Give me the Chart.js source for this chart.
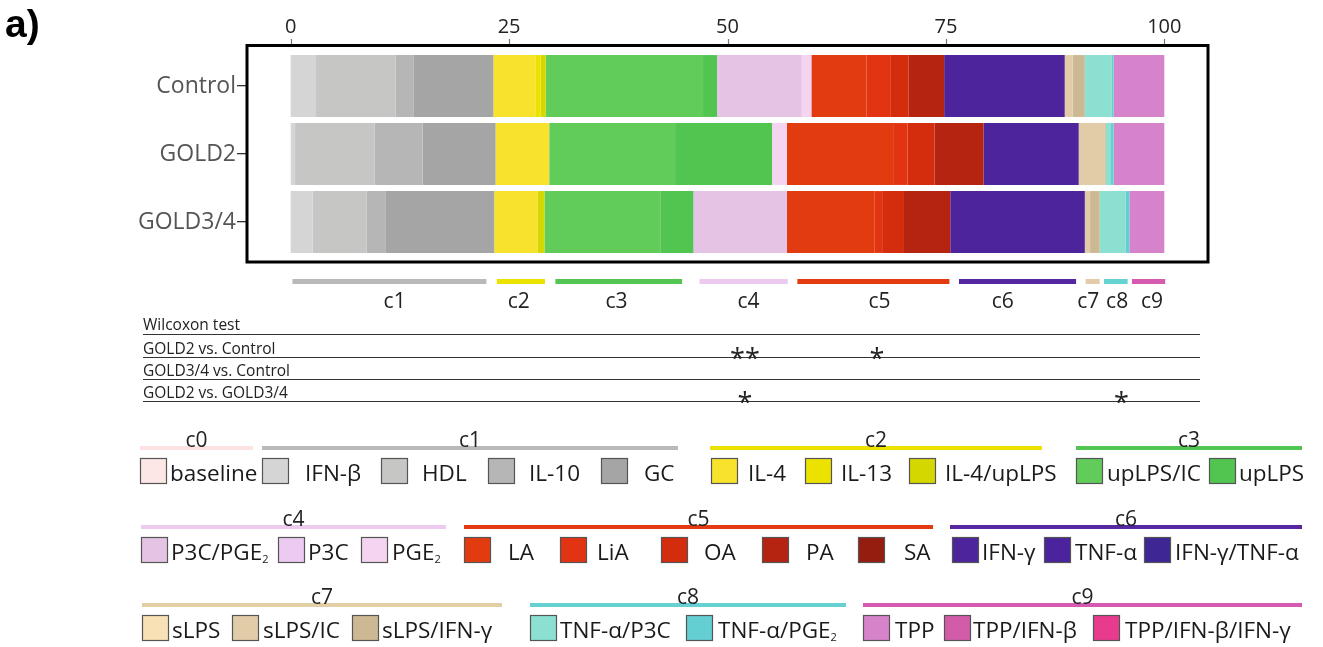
<!DOCTYPE html>
<html>
<head>
<meta charset="utf-8">
<title>Cluster composition by GOLD stage</title>
<script src="https://cdn.jsdelivr.net/npm/chart.js@4.4.1/dist/chart.umd.min.js"></script>
<style>
    html, body { margin: 0; padding: 0; background: #fff; }
    canvas { display: block; }
</style>
</head>
<body>
<canvas id="fig" width="1323" height="647"></canvas>
<script>
// ---- data (percent of each group) ----
const groups = ['Control', 'GOLD2', 'GOLD3/4'];
const xTicks = [0, 25, 50, 75, 100];

const treatments = ['baseline', 'IFN-β', 'HDL', 'IL-10', 'GC', 'IL-4', 'IL-13', 'IL-4/upLPS',
    'upLPS/IC', 'upLPS', 'P3C/PGE₂', 'P3C', 'PGE₂', 'LA', 'LiA', 'OA', 'PA', 'SA',
    'IFN-γ', 'TNF-α', 'IFN-γ/TNF-α', 'sLPS', 'sLPS/IC', 'sLPS/IFN-γ', 'TNF-α/P3C', 'TNF-α/PGE₂',
    'TPP', 'TPP/IFN-β', 'TPP/IFN-β/IFN-γ'];
const treatmentCluster = ['c0', 'c1', 'c1', 'c1', 'c1', 'c2', 'c2', 'c2', 'c3', 'c3',
    'c4', 'c4', 'c4', 'c5', 'c5', 'c5', 'c5', 'c5', 'c6', 'c6', 'c6',
    'c7', 'c7', 'c7', 'c8', 'c8', 'c9', 'c9', 'c9'];
const treatmentColors = ['#fde6e6', '#d5d5d5', '#c6c6c5', '#b7b6b6', '#a4a5a4', '#f8e22c', '#ebe200', '#d5d700',
    '#61cc5a', '#52c551', '#e5c3e5', '#eccaf1', '#f5d4f2', '#e33b10', '#e23312', '#d42d0e', '#b52410', '#951d0f',
    '#4e249c', '#4b239c', '#3e2794', '#f8e1b5', '#e2cca8', '#cdb894', '#8be0d2', '#63cfd2',
    '#d683cc', '#d35ca9', '#e83b8d'];

const controlValues = [0, 2.9, 9.1, 2.1, 9.1, 4.8, 0.6, 0.6, 18.0, 1.6, 9.7, 0, 1.1, 6.3, 2.8, 2.0, 4.1, 0,
    13.8, 0, 0, 0, 0.9, 1.4, 3.1, 0.2, 5.8, 0, 0];
const gold2Values = [0, 0.5, 9.1, 5.5, 8.35, 6.05, 0, 0.1, 14.4, 11.1, 0, 0, 1.7, 12.25, 1.55, 3.1, 5.6, 0,
    10.9, 0, 0, 0, 3.0, 0.1, 0.6, 0.3, 5.8, 0, 0];
const gold34Values = [0, 2.5, 6.2, 2.2, 12.4, 4.95, 0, 0.8, 13.25, 3.8, 10.7, 0, 0, 10.0, 0.9, 2.5, 5.3, 0,
    15.4, 0, 0, 0, 0.6, 1.1, 3.0, 0.4, 4.0, 0, 0];

// cluster spans under the bars (same x units)
const clusters = ['c1', 'c2', 'c3', 'c4', 'c5', 'c6', 'c7', 'c8', 'c9'];
const clusterFrom = [0.2, 23.6, 30.3, 46.8, 58.0, 76.5, 91.0, 93.1, 96.3];
const clusterTo = [22.4, 29.1, 44.8, 56.9, 75.4, 89.9, 92.6, 95.8, 100.1];
const clusterLabelAt = [11.9, 26.1, 37.3, 52.4, 67.4, 81.5, 91.3, 94.6, 98.6];
const clusterColors = ['#b9b9b9', '#ebe200', '#52c552', '#ecc9ef', '#e33a12', '#5427a0', '#e2cca8', '#66d2d2', '#d65bb0'];

// Wilcoxon test rows and significance marks
const testRows = ['Wilcoxon test', 'GOLD2 vs. Control', 'GOLD3/4 vs. Control', 'GOLD2 vs. GOLD3/4'];
const starRow = [1, 1, 3, 3];
const starAt = [52.0, 67.1, 52.0, 95.1];
const starText = ['**', '*', '*', '*'];

// legend groups
const legendGroups = ['c0', 'c1', 'c2', 'c3', 'c4', 'c5', 'c6', 'c7', 'c8', 'c9'];
const legendGroupColors = ['#fde2e2', '#b9b9b9', '#ebe200', '#52c552', '#eccbef', '#e33a12', '#5527a0', '#e3cfa6', '#66d0d2', '#d65bb0'];

// ---- layout of the legend (pixels) ----
const legendRowsY = [458, 537, 615];
const groupLayout = {
    c0: [0, 140, 253], c1: [0, 262, 678], c2: [0, 710, 1042], c3: [0, 1076, 1302],
    c4: [1, 141, 446], c5: [1, 464, 933], c6: [1, 950, 1302],
    c7: [2, 142, 502], c8: [2, 530, 846], c9: [2, 863, 1302]
};
const itemLayout = [
    [140, 170], [262, 305], [381, 422], [488, 529], [601, 644], [711, 748], [805, 841], [909, 945],
    [1076, 1107], [1209, 1239],
    [141, 171], [278, 308], [361, 392], [464, 508], [560, 597], [661, 704], [762, 806], [858, 904],
    [952, 982], [1044, 1075], [1144, 1175],
    [142, 172], [232, 263], [352, 382], [530, 560], [686, 718], [863, 895], [944, 973], [1093, 1125]
];

const FONT = '"Open Sans", "Noto Sans", sans-serif';

// draws text, rendering ₂ as a small lowered 2
function drawRich(ctx, text, x, y, size) {
    const parts = text.split('₂');
    parts.forEach((p, i) => {
        ctx.font = size + 'px ' + FONT;
        ctx.fillText(p, x, y);
        x += ctx.measureText(p).width;
        if (i < parts.length - 1) {
            ctx.font = Math.round(size * 0.5) + 'px ' + FONT;
            ctx.fillText('2', x, y + 3);
            x += ctx.measureText('2').width;
        }
    });
}

function hline(ctx, x0, x1, y) {
    ctx.beginPath();
    ctx.moveTo(x0, y);
    ctx.lineTo(x1, y);
    ctx.stroke();
}

const figurePlugin = {
    id: 'figure',
    afterDraw(chart) {
        const ctx = chart.ctx;
        const a = chart.chartArea;
        const x = chart.scales.x;
        ctx.save();

        // panel letter
        ctx.fillStyle = '#000';
        ctx.font = 'bold 39px "Liberation Sans", Arial, sans-serif';
        ctx.textBaseline = 'alphabetic';
        ctx.textAlign = 'left';
        ctx.fillText('a)', 5, 37);

        // top tick marks
        ctx.strokeStyle = '#777';
        ctx.lineWidth = 1.2;
        xTicks.forEach(v => {
            const px = Math.round(x.getPixelForValue(v)) + 0.5;
            ctx.beginPath();
            ctx.moveTo(px, 39);
            ctx.lineTo(px, 45);
            ctx.stroke();
        });

        // frame
        ctx.strokeStyle = '#000';
        ctx.lineWidth = 3;
        ctx.strokeRect(a.left, a.top - 6.5, a.right - a.left, a.bottom - a.top + 12.5);

        // cluster spans
        clusters.forEach((c, i) => {
            const x0 = x.getPixelForValue(clusterFrom[i]);
            const x1 = x.getPixelForValue(clusterTo[i]);
            ctx.fillStyle = clusterColors[i];
            ctx.fillRect(x0, 279, x1 - x0, 5);
            ctx.fillStyle = '#222';
            ctx.font = '21px ' + FONT;
            ctx.textAlign = 'center';
            ctx.fillText(c, x.getPixelForValue(clusterLabelAt[i]), 308);
        });

        // Wilcoxon table
        const rowBase = [330, 354, 376, 398];
        const rowLine = [334.5, 357.5, 379.5, 401.5];
        ctx.textAlign = 'left';
        ctx.fillStyle = '#222';
        ctx.strokeStyle = '#333';
        ctx.lineWidth = 1.2;
        testRows.forEach((t, i) => {
            ctx.font = '15.5px ' + FONT;
            ctx.fillText(t, 143, rowBase[i]);
            hline(ctx, 143, 1200, rowLine[i]);
        });
        ctx.textAlign = 'center';
        ctx.font = '27px ' + FONT;
        starText.forEach((s, i) => {
            ctx.fillText(s, x.getPixelForValue(starAt[i]), rowLine[starRow[i]] + 10);
        });

        // legend headers
        legendGroups.forEach((g, i) => {
            const [row, x0, x1] = groupLayout[g];
            const ly = legendRowsY[row] - 10;
            ctx.strokeStyle = legendGroupColors[i];
            ctx.lineWidth = 4;
            hline(ctx, x0, x1, ly);
            ctx.fillStyle = '#222';
            ctx.font = '21px ' + FONT;
            ctx.textAlign = 'center';
            ctx.fillText(g, (x0 + x1) / 2, ly - 1);
        });

        // legend items
        ctx.textAlign = 'left';
        treatments.forEach((t, i) => {
            const row = groupLayout[treatmentCluster[i]][0];
            const y = legendRowsY[row];
            const [sx, tx] = itemLayout[i];
            ctx.fillStyle = treatmentColors[i];
            ctx.fillRect(sx, y, 27, 26);
            ctx.strokeStyle = '#555';
            ctx.lineWidth = 1.2;
            ctx.strokeRect(sx + 0.5, y + 0.5, 26, 25);
            ctx.fillStyle = '#1a1a1a';
            drawRich(ctx, t, tx, y + 23, 22.5);
        });

        ctx.restore();
    }
};

const datasets = treatments.map((t, i) => ({
    label: t,
    data: [controlValues[i], gold2Values[i], gold34Values[i]],
    backgroundColor: treatmentColors[i],
    borderWidth: 0
}));

new Chart(document.getElementById('fig'), {
    type: 'bar',
    data: { labels: groups, datasets: datasets },
    options: {
        indexAxis: 'y',
        responsive: false,
        animation: false,
        devicePixelRatio: 1,
        layout: { padding: { left: 137, top: 0, right: 115, bottom: 391 } },
        plugins: {
            legend: { display: false },
            tooltip: { enabled: false }
        },
        datasets: {
            bar: { barPercentage: 0.91, categoryPercentage: 1 }
        },
        scales: {
            x: {
                type: 'linear',
                position: 'top',
                stacked: true,
                min: -5,
                max: 105,
                afterBuildTicks: s => { s.ticks = xTicks.map(v => ({ value: v })); },
                afterFit: s => { s.height = 52; },
                grid: { display: false, drawTicks: false },
                border: { display: false },
                ticks: { padding: 13, color: '#222', font: { family: FONT, size: 20 } }
            },
            y: {
                stacked: true,
                afterFit: s => { s.width = 110; },
                grid: { drawOnChartArea: false, offset: false, tickLength: 10, color: '#333', lineWidth: 1.3 },
                border: { display: false },
                ticks: { padding: 1, color: '#555', font: { family: FONT, size: 23 } }
            }
        }
    },
    plugins: [figurePlugin]
});
</script>
</body>
</html>
